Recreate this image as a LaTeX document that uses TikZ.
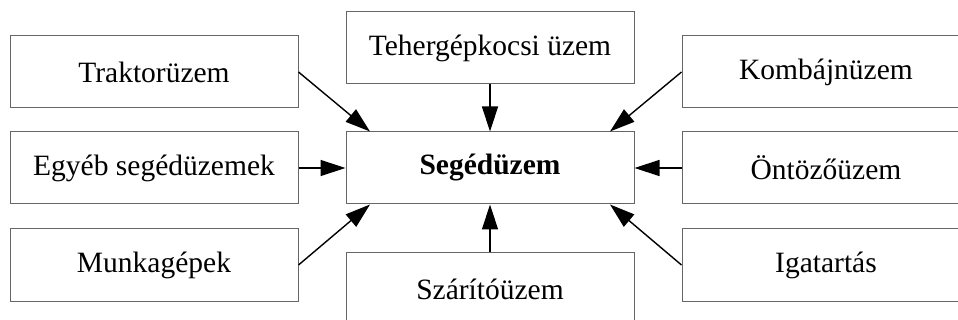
\documentclass[tikz,border=0pt]{standalone}
\usepackage{fontspec}
\setmainfont{Liberation Serif}
\usetikzlibrary{arrows.meta}
\begin{document}
\begin{tikzpicture}[x=1pt,y=-1pt,
  box/.style={draw=black!60,line width=1pt,fill=white,minimum width=288pt,minimum height=72pt,inner sep=0pt,font=\fontsize{29.5}{33}\selectfont},
  arr/.style={draw=black,line width=1.4pt,-{Triangle[length=25pt,width=16pt]}}]
\useasboundingbox (0,0) rectangle (958,320);
\clip (0,0) rectangle (958,320);
\fill[white] (0,0) rectangle (958,320);
\node[box] (trak) at (154,72) {Traktorüzem};
\node[box] (egy) at (154,168) {Egyéb segédüzemek};
\node[box] (munka) at (154,265) {Munkagépek};
\node[box] (teher) at (490,48) {Tehergépkocsi üzem};
\node[box,font=\fontsize{29.5}{33}\selectfont\bfseries] (seg) at (490,168) {Segédüzem};
\node[box] (szar) at (490,289) {Szárítóüzem};
\node[box] (komb) at (826,72) {Kombájnüzem};
\node[box] (ont) at (826,168) {Öntözőüzem};
\node[box] (iga) at (826,265) {Igatartás};
\draw[arr] (trak.east) -- ([xshift=-120pt]seg.north);
\draw[arr] (teher.south) -- (seg.north);
\draw[arr] (komb.west) -- ([xshift=120pt]seg.north);
\draw[arr] (egy.east) -- (seg.west);
\draw[arr] (ont.west) -- (seg.east);
\draw[arr] (munka.east) -- ([xshift=-120pt]seg.south);
\draw[arr] (szar.north) -- (seg.south);
\draw[arr] (iga.west) -- ([xshift=120pt]seg.south);
\end{tikzpicture}
\end{document}
